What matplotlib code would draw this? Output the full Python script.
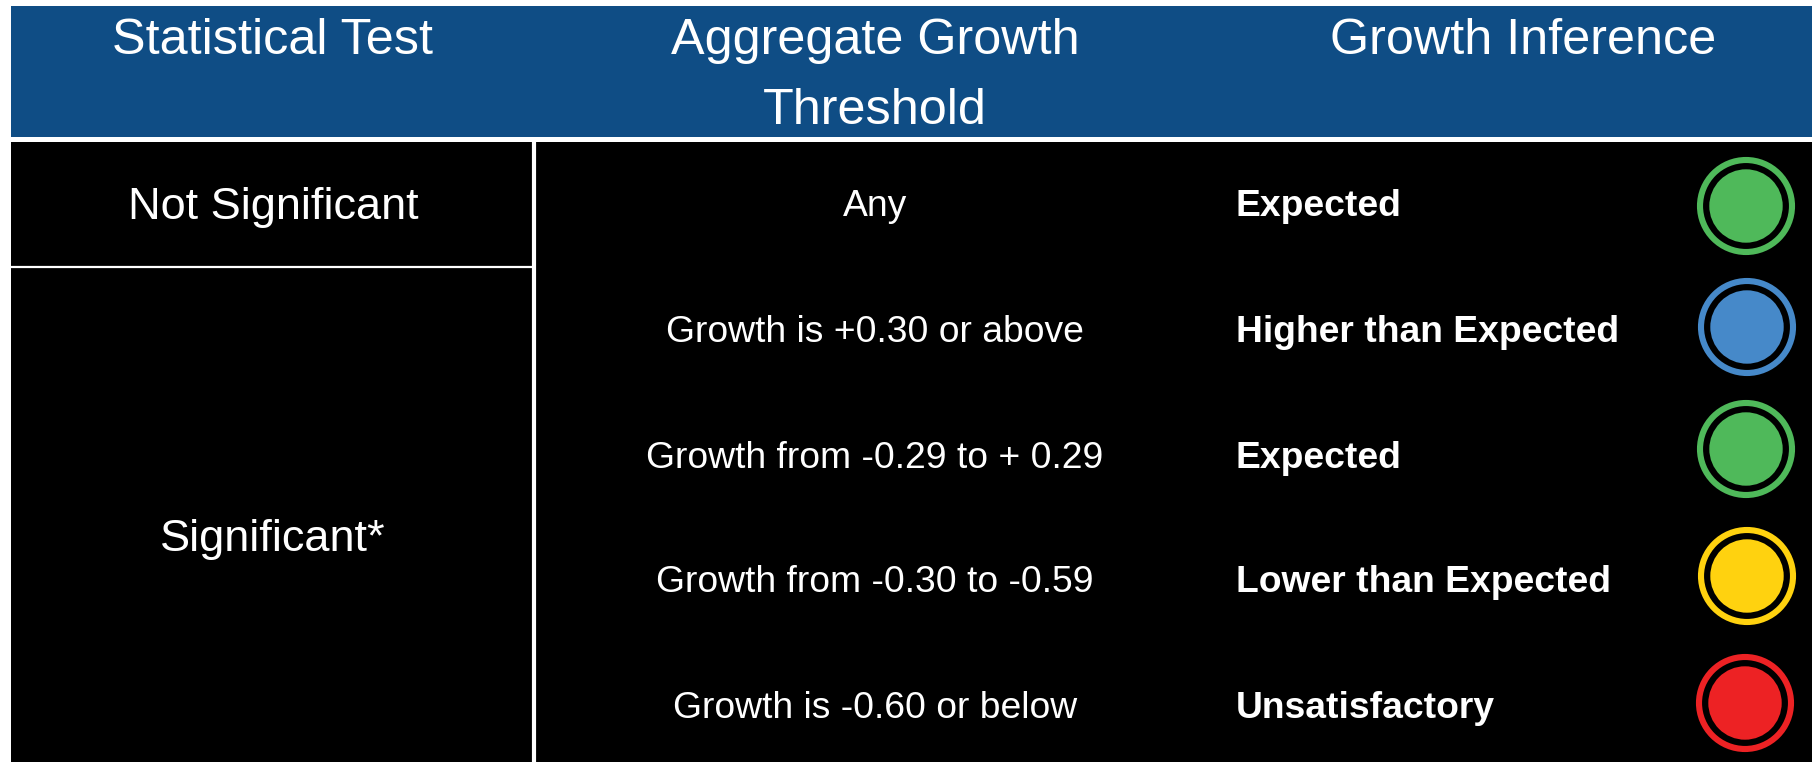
import matplotlib
matplotlib.use('agg')
from matplotlib import pyplot as plt
from matplotlib.patches import Circle, Rectangle

plt.rc('font', family=['Liberation Sans', 'DejaVu Sans'])

W, H = 1812, 762

headers = ['Statistical Test', 'Aggregate Growth\nThreshold', 'Growth Inference']
tests = ['Not Significant', 'Significant*']
thresholds = ['Any', 'Growth is +0.30 or above', 'Growth from -0.29 to + 0.29',
              'Growth from -0.30 to -0.59', 'Growth is -0.60 or below']
inferences = ['Expected', 'Higher than Expected', 'Expected',
              'Lower than Expected', 'Unsatisfactory']
colors = ['#4fb95a', '#4689c9', '#4fb95a', '#ffd20f', '#ed2224']

text_y = [207, 333, 459, 583, 708]
light_x = [1746, 1747, 1746, 1747, 1745]
light_y = [206, 327, 449, 576, 703]

fig = plt.figure(figsize=(W / 100, H / 100), dpi=100, facecolor='white')
ax = fig.add_axes([0, 0, 1, 1])
ax.set_xlim(0, W)
ax.set_ylim(H, 0)
ax.axis('off')

# header band and black body
ax.add_patch(Rectangle((11, 6), W - 11, 131, fc='#0f4d85', ec='none'))
ax.add_patch(Rectangle((11, 142), W - 11, H - 142, fc='black', ec='none'))

# cell dividers
ax.plot([534, 534], [140, H], color='white', lw=3)
ax.plot([11, 534], [267, 267], color='white', lw=1.6)

ax.text(273, 41, headers[0], color='white', fontsize=36.3, ha='center', va='center')
ax.text(875, 76, headers[1], color='white', fontsize=36.3, ha='center', va='center',
        linespacing=1.68)
ax.text(1523, 41, headers[2], color='white', fontsize=36.3, ha='center', va='center')

ax.text(273, 207, tests[0], color='white', fontsize=32.5, ha='center', va='center')
ax.text(273, 539, tests[1], color='white', fontsize=32.5, ha='center', va='center')

for y, thr, inf in zip(text_y, thresholds, inferences):
    ax.text(875, y, thr, color='white', fontsize=26.8, ha='center', va='center')
    ax.text(1236, y, inf, color='white', fontsize=26.8, fontweight='bold', ha='left', va='center')

# status light: coloured ring round a filled disc
for x, y, col in zip(light_x, light_y, colors):
    ax.add_patch(Circle((x, y), 46, fc='none', ec=col, lw=4.4))
    ax.add_patch(Circle((x, y), 36.7, fc=col, ec='none'))

fig.savefig('out.png', dpi=100)
